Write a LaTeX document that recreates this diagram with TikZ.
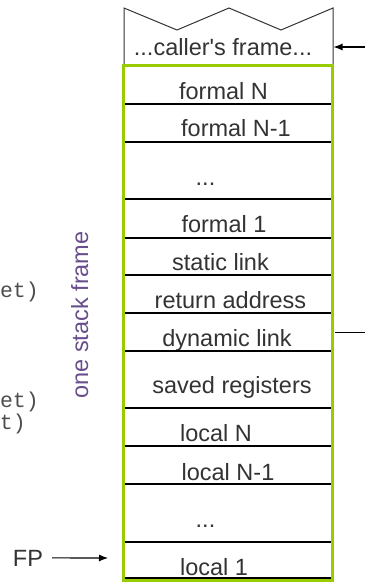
\documentclass[tikz,border=0pt]{standalone}
\usepackage{fontspec}
\setmainfont{Liberation Sans}
\setmonofont{Liberation Mono}
\usetikzlibrary{arrows.meta}
\definecolor{framegreen}{RGB}{153,204,0}
\definecolor{labelgray}{RGB}{51,51,51}
\definecolor{codegray}{RGB}{77,77,77}
\definecolor{framepurple}{RGB}{104,78,140}
\begin{document}
\begin{tikzpicture}[x=1pt,y=-1pt,
  slot/.style={anchor=base,inner sep=0pt,text=labelgray,font=\fontsize{23.5}{28}\selectfont},
  sep/.style={line width=1.2pt,black},
  code/.style={anchor=base east,inner sep=0pt,text=codegray,font=\ttfamily\fontsize{21.5}{22}\selectfont},
  ptr/.style={line width=1.1pt,-{Latex[length=9pt,width=7pt]}}]
\useasboundingbox (0,0) rectangle (365,582);

% caller's frame with a torn top edge
\draw[line width=1pt,draw=black!80] (124,64) -- (124,8) -- (177,30) -- (229,8)
  -- (281,30) -- (333,8) -- (333,64);
\node[slot] (caller) at (223,55) {...caller\textquotesingle s frame...};

% slots of the current frame
\node[slot] (formalN)  at (223.5,99.5) {formal N};
\node[slot] (formalN1) at (236,136.5) {formal N-1};
\node[slot] (formaldots) at (205.5,185) {...};
\node[slot] (formal1)  at (224,232.5) {formal 1};
\node[slot] (static)   at (220.5,270.5) {static link};
\node[slot] (retaddr)  at (230.5,308.5) {return address};
\node[slot] (dynlink)  at (227,346) {dynamic link};
\node[slot] (saved)    at (232,393.5) {saved registers};
\node[slot] (localN)   at (216,441.5) {local N};
\node[slot] (localN1)  at (228,480) {local N-1};
\node[slot] (localdots) at (205.5,527.5) {...};
\node[slot] (local1)   at (214,575) {local 1};

% separators between slots
\foreach \y in {104,142,199,238,275,313,351,408,446,484,542,578}
  \draw[sep] (125,\y) -- (331,\y);

% outline of one stack frame
\draw[framegreen,line width=3pt] (123.5,65) rectangle (332.5,580);

\node[rotate=90,anchor=base,inner sep=0pt,text=framepurple,
  font=\fontsize{23.5}{28}\selectfont] (oneframe) at (88,315) {one stack frame};

% partly visible code on the left
\node[code] (codeA) at (39,297) {et)};
\node[code] (codeB) at (39,407) {et)};
\node[code] (codeC) at (26,429) {t)};

% pointers
\coordinate (callerin) at (365,47);
\coordinate (callerR) at (333.5,47);
\draw[ptr] (callerin) -- (callerR);

\coordinate (dynR) at (335,332);
\coordinate (dynout) at (365,332);
\draw[line width=1pt] (dynR) -- (dynout);

\node[slot] (fp) at (28,566) {FP};
\coordinate (fptip) at (108,558);
\draw[ptr] ([xshift=9pt]fp.east) -- (fptip);
\end{tikzpicture}
\end{document}
